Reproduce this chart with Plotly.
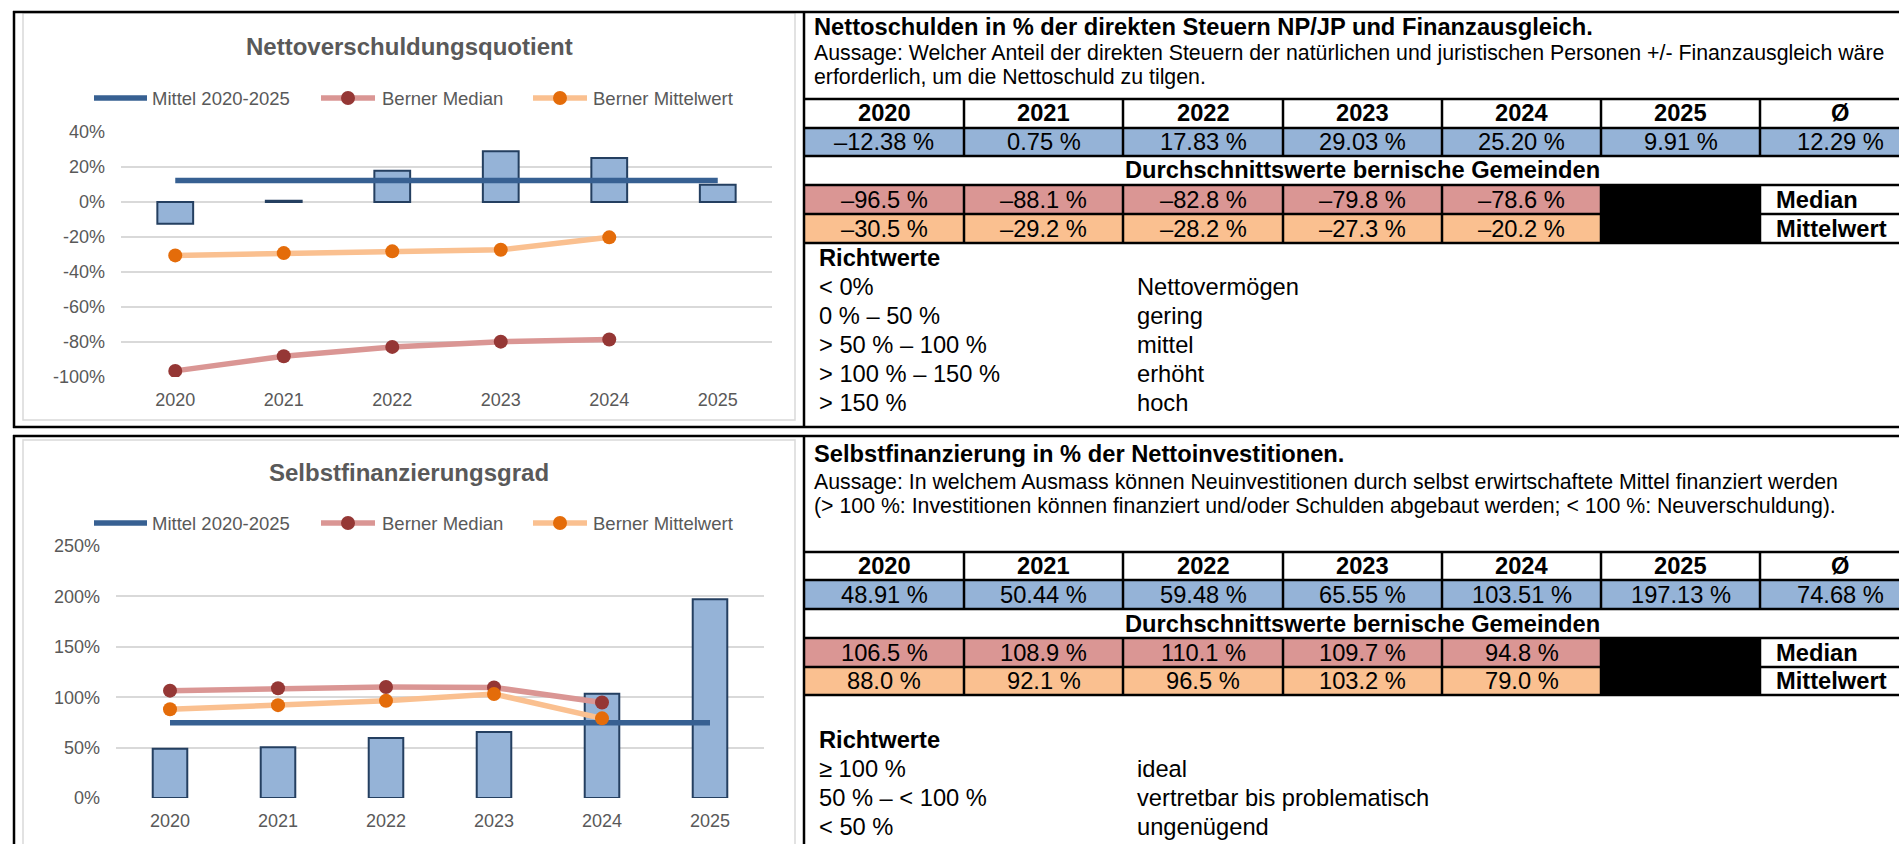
import plotly.graph_objects as go

# ---------------- data ----------------
years = ["2020", "2021", "2022", "2023", "2024", "2025"]
years_bern = ["2020", "2021", "2022", "2023", "2024"]

nvq_values = [-12.38, 0.75, 17.83, 29.03, 25.20, 9.91]
nvq_avg = 12.29
nvq_mittel_line = [12.29, 12.29, 12.29, 12.29, 12.29, 12.29]
nvq_median = [-96.5, -88.1, -82.8, -79.8, -78.6]
nvq_mean = [-30.5, -29.2, -28.2, -27.3, -20.2]

sfg_values = [48.91, 50.44, 59.48, 65.55, 103.51, 197.13]
sfg_avg = 74.68
sfg_mittel_line = [74.68, 74.68, 74.68, 74.68, 74.68, 74.68]
sfg_median = [106.5, 108.9, 110.1, 109.7, 94.8]
sfg_mean = [88.0, 92.1, 96.5, 103.2, 79.0]

nvq_tickvals = [40, 20, 0, -20, -40, -60, -80, -100]
nvq_ticktext = ["40%", "20%", "0%", "-20%", "-40%", "-60%", "-80%", "-100%"]
sfg_tickvals = [0, 50, 100, 150, 200, 250]
sfg_ticktext = ["0%", "50%", "100%", "150%", "200%", "250%"]

legend_names = ["Mittel 2020-2025", "Berner Median", "Berner Mittelwert"]
table_header = ["2020", "2021", "2022", "2023", "2024", "2025", "Ø"]

nvq_title = "Nettoverschuldungsquotient"
sfg_title = "Selbstfinanzierungsgrad"
nvq_heading = "Nettoschulden in % der direkten Steuern NP/JP und Finanzausgleich."
nvq_text = ["Aussage: Welcher Anteil der direkten Steuern der natürlichen und juristischen Personen +/- Finanzausgleich wäre",
            "erforderlich, um die Nettoschuld zu tilgen."]
sfg_heading = "Selbstfinanzierung in % der Nettoinvestitionen."
sfg_text = ["Aussage: In welchem Ausmass können Neuinvestitionen durch selbst erwirtschaftete Mittel finanziert werden",
            "(&gt; 100 %: Investitionen können finanziert und/oder Schulden abgebaut werden; &lt; 100 %: Neuverschuldung)."]
durch_label = "Durchschnittswerte bernische Gemeinden"
row_labels = ["Median", "Mittelwert"]
nvq_richt_left = ["&lt; 0%", "0 % – 50 %", "&gt; 50 % – 100 %", "&gt; 100 % – 150 %", "&gt; 150 %"]
nvq_richt_right = ["Nettovermögen", "gering", "mittel", "erhöht", "hoch"]
sfg_richt_left = ["≥ 100 %", "50 % – &lt; 100 %", "&lt; 50 %"]
sfg_richt_right = ["ideal", "vertretbar bis problematisch", "ungenügend"]

# ---------------- styles ----------------
W, H = 1899, 844
FONT = "Liberation Sans, Arial, sans-serif"
GRAY = "#595959"
C_BAR = "#95B3D7"
C_BAR_LINE = "#243F60"
C_MITTEL = "#376092"
C_MED_LINE = "#DA9694"
C_MED_MARK = "#953735"
C_MEAN_LINE = "#FAC090"
C_MEAN_MARK = "#E46C0A"
C_RED = "#DA9694"
C_ORANGE = "#FAC090"


def fx(x):
    return x / W


def fy(y):
    return 1 - y / H


shapes = []
ann = []


def rect(x0, y0, x1, y1, fill="rgba(0,0,0,0)", line="rgba(0,0,0,0)", lw=0, layer="below"):
    shapes.append(dict(type="rect", xref="paper", yref="paper",
                       x0=fx(x0), x1=fx(x1), y0=fy(y1), y1=fy(y0),
                       fillcolor=fill, line=dict(color=line, width=lw), layer=layer))


def hline(x0, x1, y, color="black", w=2.5, layer="above"):
    shapes.append(dict(type="line", xref="paper", yref="paper",
                       x0=fx(x0), x1=fx(x1), y0=fy(y), y1=fy(y),
                       line=dict(color=color, width=w), layer=layer))


def vline(x, y0, y1, color="black", w=2.5, layer="above"):
    shapes.append(dict(type="line", xref="paper", yref="paper",
                       x0=fx(x), x1=fx(x), y0=fy(y0), y1=fy(y1),
                       line=dict(color=color, width=w), layer=layer))


def circle(cx, cy, r, color):
    shapes.append(dict(type="circle", xref="paper", yref="paper",
                       x0=fx(cx - r), x1=fx(cx + r), y0=fy(cy + r), y1=fy(cy - r),
                       fillcolor=color, line=dict(width=0), layer="above"))


def text(x, y, s, size, bold=False, color="black", anchor="left"):
    ann.append(dict(xref="paper", yref="paper", x=fx(x), y=fy(y),
                    text=f"<b>{s}</b>" if bold else s, showarrow=False,
                    xanchor=anchor, yanchor="middle", borderpad=0,
                    font=dict(family=FONT, size=size, color=color)))


def fmt2(v):
    return f"{v:.2f} %".replace("-", "–")


def fmt1(v):
    return f"{v:.1f} %".replace("-", "–")


fig = go.Figure()

# ---------------- charts ----------------
def add_chart(xa, ya, vals, mline, med, mean, bw):
    fig.add_trace(go.Bar(x=years, y=vals, xaxis=xa, yaxis=ya, width=bw,
                         marker=dict(color=C_BAR, line=dict(color=C_BAR_LINE, width=2)),
                         showlegend=False, hoverinfo="skip"))
    fig.add_trace(go.Scatter(x=years, y=mline, xaxis=xa, yaxis=ya, mode="lines",
                             line=dict(color=C_MITTEL, width=5.5), showlegend=False))
    fig.add_trace(go.Scatter(x=years_bern, y=med, xaxis=xa, yaxis=ya, mode="lines+markers",
                             line=dict(color=C_MED_LINE, width=5.5),
                             marker=dict(color=C_MED_MARK, size=14, line=dict(width=0)),
                             showlegend=False))
    fig.add_trace(go.Scatter(x=years_bern, y=mean, xaxis=xa, yaxis=ya, mode="lines+markers",
                             line=dict(color=C_MEAN_LINE, width=5.5),
                             marker=dict(color=C_MEAN_MARK, size=14, line=dict(width=0)),
                             showlegend=False))


add_chart("x", "y", nvq_values, nvq_mittel_line, nvq_median, nvq_mean, 0.33)
add_chart("x2", "y2", sfg_values, sfg_mittel_line, sfg_median, sfg_mean, 0.32)

axfont = dict(family=FONT, size=18, color=GRAY)
xcommon = dict(type="category", range=[-0.5, 5.5], showgrid=False, showline=False,
               zeroline=False, ticks="", tickfont=axfont, ticklabelstandoff=10,
               fixedrange=True, automargin=False)
ycommon = dict(showgrid=True, gridcolor="#D9D9D9", gridwidth=1.5, zeroline=False,
               showline=False, ticks="", tickfont=axfont, ticklabelstandoff=15,
               fixedrange=True, automargin=False)

layout_axes = dict(
    xaxis=dict(domain=[fx(121), fx(772)], anchor="y", **xcommon),
    yaxis=dict(domain=[fy(377), fy(132)], anchor="x", range=[-100, 40],
               tickvals=nvq_tickvals, ticktext=nvq_ticktext, **ycommon),
    xaxis2=dict(domain=[fx(116), fx(764)], anchor="y2", **xcommon),
    yaxis2=dict(domain=[fy(798), fy(546)], anchor="x2", range=[0, 250],
                tickvals=sfg_tickvals, ticktext=sfg_ticktext, **ycommon),
)

# chart frames, titles, legends
for (top, bottom, title, ty, ly) in [(13, 420, nvq_title, 47, 98), (440, 850, sfg_title, 472, 523)]:
    rect(23, top, 795, bottom, line="#D9D9D9", lw=1.5)
    text(409, ty, title, 24, bold=True, color=GRAY, anchor="center")
    # legend
    hline(94, 147, ly, color=C_MITTEL, w=5.5)
    text(151, ly, legend_names[0], 18.5, color=GRAY)
    hline(321, 375, ly, color=C_MED_LINE, w=5.5)
    circle(348, ly, 7, C_MED_MARK)
    text(381, ly, legend_names[1], 18.5, color=GRAY)
    hline(533, 587, ly, color=C_MEAN_LINE, w=5.5)
    circle(560, ly, 7, C_MEAN_MARK)
    text(592, ly, legend_names[2], 18.5, color=GRAY)

# ---------------- outer black frames ----------------
hline(13, W, 12)
hline(13, W, 427)
vline(14, 11, 428)
vline(804, 11, 428)
hline(13, W, 436)
vline(14, 435, H)
vline(804, 435, H)

# ---------------- tables ----------------
col_edges = [804, 964, 1123, 1283, 1442, 1601, 1760, 1920]
col_centers = [(col_edges[i] + col_edges[i + 1]) / 2 for i in range(7)]
TS = 23.7
AS = 21.3


def add_table(rows, heading_y, text_ys, heading, lines, vals, avg, med, mean,
              richt_y0, richt_left, richt_right):
    text(813, heading_y, heading, TS, bold=True)
    for yy, s in zip(text_ys, lines):
        text(813, yy, s, AS)
    r0, r1, r2, r3, r4, r5 = rows
    # fills
    rect(804, r1, W, r2, fill=C_BAR)
    rect(804, r3, 1601, r4, fill=C_RED)
    rect(804, r4, 1601, r5, fill=C_ORANGE)
    rect(1601, r3, 1760, r5, fill="black")
    # lines
    for r in rows:
        hline(804, W, r)
    for x in col_edges[1:7]:
        vline(x, r0, r2)
        vline(x, r3, r5)
    # texts
    for i in range(7):
        text(col_centers[i], (r0 + r1) / 2, table_header[i], TS, bold=True, anchor="center")
    allv = vals + [avg]
    for i in range(7):
        text(col_centers[i], (r1 + r2) / 2, fmt2(allv[i]), TS, anchor="center")
    text((804 + 1920) / 2, (r2 + r3) / 2, durch_label, TS, bold=True, anchor="center")
    for i in range(5):
        text(col_centers[i], (r3 + r4) / 2, fmt1(med[i]), TS, anchor="center")
        text(col_centers[i], (r4 + r5) / 2, fmt1(mean[i]), TS, anchor="center")
    text(1775, (r3 + r4) / 2, row_labels[0], TS, bold=True)
    text(1775, (r4 + r5) / 2, row_labels[1], TS, bold=True)
    # Richtwerte
    text(818, richt_y0, "Richtwerte", TS, bold=True)
    for k, (a, b) in enumerate(zip(richt_left, richt_right)):
        yy = richt_y0 + 29 * (k + 1)
        text(818, yy, a, TS)
        text(1136, yy, b, TS)


add_table([99, 128, 156, 185, 214, 243], 27, [53, 77], nvq_heading, nvq_text,
          nvq_values, nvq_avg, nvq_median, nvq_mean, 258, nvq_richt_left, nvq_richt_right)
add_table([552, 580, 609, 638, 667, 695], 454, [482, 506], sfg_heading, sfg_text,
          sfg_values, sfg_avg, sfg_median, sfg_mean, 740, sfg_richt_left, sfg_richt_right)

fig.update_layout(
    width=W, height=H, autosize=False,
    margin=dict(l=0, r=0, t=0, b=0, pad=0, autoexpand=False),
    paper_bgcolor="white", plot_bgcolor="white",
    showlegend=False, shapes=shapes, annotations=ann,
    font=dict(family=FONT),
    **layout_axes,
)

fig.write_html(
    "out.html", config={"displayModeBar": False},
    post_script=("document.documentElement.style.margin='0';"
                 "document.body.style.margin='0';document.body.style.padding='0';"
                 "document.body.style.overflow='hidden';"),
)
